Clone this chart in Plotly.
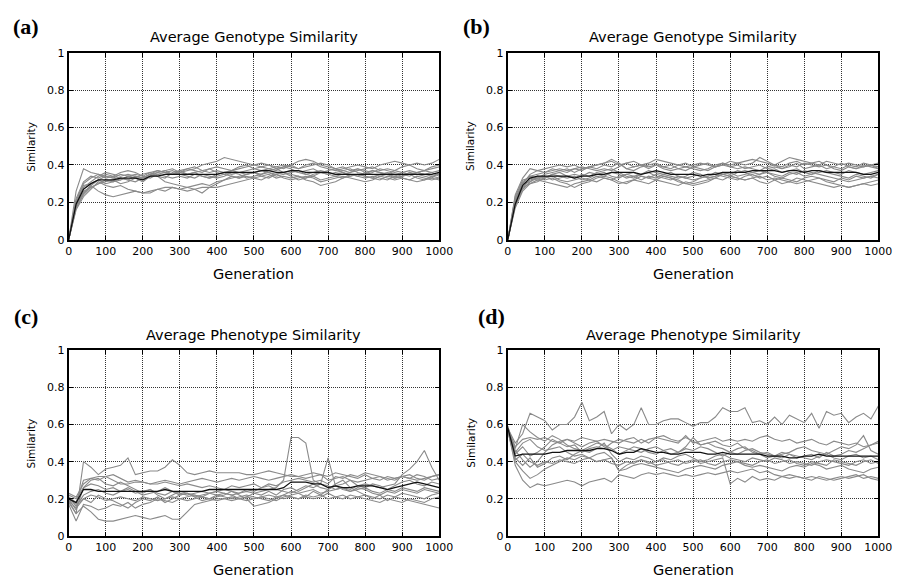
import plotly.graph_objects as go
from plotly.subplots import make_subplots

generations = list(range(0, 1001, 20))
x_ticks = list(range(0, 1001, 100))
y_ticks = [0, 0.2, 0.4, 0.6, 0.8, 1]
y_ticktext = ["0", "0.2", "0.4", "0.6", "0.8", "1"]

panel_labels = ["(a)", "(b)", "(c)", "(d)"]
panel_titles = ["Average Genotype Similarity", "Average Genotype Similarity",
                "Average Phenotype Similarity", "Average Phenotype Similarity"]

# ---- panel (a): genotype similarity runs ----
a_runs = [
    [0.00,0.26,0.38,0.36,0.35,0.33,0.34,0.36,0.37,0.36,0.34,0.36,0.37,0.36,0.35,0.37,0.38,0.37,0.36,0.38,0.39,0.38,0.37,0.39,0.40,0.38,0.37,0.38,0.39,0.40,0.39,0.38,0.40,0.41,0.39,0.38,0.37,0.38,0.39,0.40,0.39,0.38,0.40,0.41,0.42,0.41,0.40,0.41,0.40,0.41,0.43],
    [0.00,0.19,0.25,0.29,0.26,0.24,0.23,0.24,0.25,0.26,0.25,0.25,0.27,0.28,0.28,0.27,0.28,0.29,0.30,0.29,0.31,0.32,0.33,0.34,0.35,0.36,0.37,0.36,0.35,0.36,0.37,0.36,0.35,0.36,0.37,0.36,0.35,0.36,0.34,0.35,0.34,0.33,0.35,0.36,0.35,0.34,0.35,0.36,0.35,0.34,0.35],
    [0.00,0.17,0.24,0.28,0.30,0.32,0.31,0.33,0.32,0.34,0.33,0.35,0.34,0.31,0.30,0.29,0.28,0.27,0.25,0.28,0.30,0.32,0.34,0.33,0.35,0.36,0.34,0.33,0.35,0.36,0.34,0.32,0.33,0.34,0.32,0.33,0.34,0.33,0.35,0.34,0.33,0.34,0.33,0.32,0.34,0.33,0.32,0.34,0.33,0.32,0.33],
    [0.00,0.16,0.23,0.27,0.31,0.29,0.28,0.29,0.27,0.26,0.25,0.26,0.27,0.26,0.28,0.27,0.26,0.27,0.28,0.28,0.28,0.29,0.30,0.31,0.32,0.33,0.34,0.35,0.33,0.34,0.33,0.34,0.32,0.31,0.29,0.30,0.31,0.33,0.34,0.35,0.34,0.33,0.32,0.34,0.33,0.34,0.35,0.33,0.32,0.34,0.33],
    [0.00,0.21,0.30,0.33,0.35,0.34,0.33,0.35,0.34,0.33,0.31,0.34,0.36,0.37,0.35,0.36,0.37,0.38,0.40,0.41,0.42,0.44,0.43,0.42,0.41,0.40,0.39,0.40,0.38,0.39,0.40,0.38,0.39,0.40,0.41,0.40,0.38,0.39,0.37,0.38,0.36,0.37,0.36,0.35,0.37,0.36,0.35,0.36,0.37,0.36,0.37],
    [0.00,0.22,0.31,0.34,0.33,0.35,0.34,0.33,0.32,0.31,0.33,0.35,0.36,0.37,0.38,0.36,0.35,0.36,0.37,0.38,0.36,0.35,0.37,0.38,0.39,0.40,0.41,0.40,0.39,0.38,0.40,0.42,0.43,0.42,0.40,0.39,0.38,0.37,0.36,0.38,0.37,0.36,0.38,0.37,0.36,0.35,0.34,0.36,0.37,0.38,0.39],
    [0.00,0.18,0.26,0.28,0.30,0.31,0.32,0.30,0.31,0.33,0.32,0.34,0.35,0.34,0.33,0.34,0.33,0.35,0.34,0.33,0.34,0.35,0.34,0.33,0.34,0.33,0.32,0.34,0.35,0.33,0.32,0.33,0.34,0.33,0.31,0.32,0.33,0.34,0.33,0.32,0.31,0.32,0.34,0.33,0.32,0.33,0.32,0.31,0.32,0.33,0.32],
    [0.00,0.20,0.28,0.31,0.34,0.36,0.35,0.34,0.35,0.34,0.33,0.35,0.37,0.36,0.35,0.36,0.38,0.39,0.37,0.36,0.37,0.36,0.35,0.36,0.37,0.38,0.39,0.38,0.37,0.39,0.38,0.36,0.37,0.38,0.36,0.35,0.36,0.37,0.38,0.36,0.35,0.37,0.36,0.35,0.34,0.36,0.37,0.36,0.35,0.36,0.34],
    [0.00,0.17,0.25,0.29,0.32,0.34,0.33,0.32,0.34,0.35,0.34,0.33,0.35,0.36,0.37,0.35,0.34,0.33,0.35,0.34,0.33,0.34,0.36,0.35,0.33,0.34,0.35,0.36,0.34,0.35,0.36,0.37,0.35,0.34,0.36,0.37,0.38,0.36,0.35,0.34,0.36,0.35,0.34,0.35,0.33,0.34,0.36,0.35,0.34,0.33,0.36],
    [0.00,0.20,0.29,0.30,0.32,0.30,0.31,0.32,0.34,0.33,0.35,0.36,0.34,0.33,0.36,0.37,0.35,0.36,0.34,0.33,0.35,0.36,0.37,0.36,0.35,0.36,0.35,0.37,0.38,0.36,0.35,0.34,0.33,0.35,0.36,0.35,0.34,0.35,0.36,0.37,0.38,0.39,0.37,0.38,0.37,0.39,0.40,0.38,0.37,0.39,0.40],
]
a_mean = [0.00,0.19,0.27,0.30,0.32,0.32,0.32,0.33,0.33,0.33,0.32,0.34,0.34,0.35,0.35,0.35,0.35,0.35,0.35,0.35,0.35,0.36,0.36,0.36,0.36,0.36,0.37,0.37,0.36,0.36,0.37,0.37,0.36,0.36,0.36,0.36,0.35,0.35,0.35,0.35,0.35,0.35,0.35,0.35,0.35,0.35,0.35,0.35,0.35,0.35,0.36]

# ---- panel (b): genotype similarity runs ----
b_runs = [
    [0.00,0.24,0.33,0.38,0.37,0.38,0.39,0.40,0.39,0.40,0.38,0.39,0.40,0.41,0.42,0.40,0.41,0.39,0.40,0.41,0.43,0.42,0.41,0.40,0.39,0.40,0.41,0.40,0.39,0.41,0.40,0.41,0.42,0.43,0.42,0.41,0.40,0.42,0.44,0.43,0.42,0.41,0.40,0.42,0.41,0.40,0.41,0.40,0.39,0.40,0.41],
    [0.00,0.21,0.30,0.35,0.37,0.36,0.38,0.37,0.36,0.38,0.37,0.39,0.40,0.41,0.43,0.41,0.38,0.39,0.40,0.38,0.40,0.39,0.38,0.40,0.41,0.39,0.38,0.37,0.39,0.40,0.39,0.40,0.38,0.39,0.40,0.38,0.39,0.38,0.40,0.39,0.41,0.40,0.39,0.40,0.38,0.37,0.39,0.38,0.39,0.40,0.39],
    [0.00,0.20,0.28,0.30,0.32,0.31,0.30,0.29,0.28,0.30,0.31,0.32,0.31,0.33,0.32,0.30,0.31,0.32,0.31,0.30,0.32,0.31,0.30,0.29,0.31,0.30,0.31,0.32,0.33,0.32,0.34,0.33,0.32,0.33,0.34,0.32,0.33,0.32,0.31,0.33,0.32,0.31,0.30,0.29,0.28,0.29,0.28,0.29,0.30,0.29,0.30],
    [0.00,0.18,0.27,0.31,0.33,0.32,0.33,0.31,0.30,0.28,0.30,0.31,0.33,0.34,0.33,0.31,0.30,0.32,0.34,0.33,0.35,0.34,0.33,0.31,0.30,0.29,0.30,0.31,0.33,0.35,0.34,0.33,0.32,0.33,0.31,0.30,0.32,0.33,0.32,0.31,0.33,0.34,0.33,0.32,0.31,0.33,0.32,0.34,0.33,0.34,0.35],
    [0.00,0.22,0.31,0.34,0.33,0.35,0.36,0.37,0.38,0.36,0.38,0.39,0.38,0.40,0.39,0.41,0.38,0.37,0.39,0.40,0.41,0.39,0.40,0.38,0.37,0.39,0.40,0.41,0.39,0.40,0.42,0.41,0.40,0.41,0.44,0.42,0.40,0.39,0.41,0.42,0.40,0.41,0.42,0.40,0.39,0.38,0.40,0.39,0.41,0.40,0.38],
    [0.00,0.19,0.28,0.32,0.33,0.34,0.32,0.33,0.34,0.35,0.34,0.36,0.35,0.34,0.36,0.35,0.33,0.34,0.35,0.37,0.36,0.35,0.34,0.33,0.34,0.36,0.35,0.33,0.34,0.35,0.36,0.34,0.35,0.36,0.37,0.36,0.35,0.34,0.36,0.35,0.37,0.36,0.35,0.34,0.33,0.32,0.31,0.32,0.33,0.34,0.33],
    [0.00,0.23,0.32,0.33,0.32,0.33,0.35,0.36,0.34,0.33,0.35,0.34,0.36,0.37,0.38,0.36,0.34,0.33,0.35,0.36,0.34,0.33,0.32,0.34,0.33,0.32,0.33,0.34,0.36,0.35,0.34,0.36,0.37,0.36,0.35,0.37,0.38,0.36,0.37,0.38,0.36,0.35,0.36,0.37,0.36,0.35,0.37,0.36,0.35,0.36,0.37],
    [0.00,0.17,0.26,0.30,0.31,0.33,0.34,0.32,0.31,0.32,0.33,0.32,0.34,0.33,0.32,0.34,0.35,0.36,0.34,0.33,0.32,0.34,0.33,0.32,0.30,0.31,0.33,0.34,0.35,0.34,0.33,0.32,0.34,0.35,0.33,0.34,0.32,0.30,0.31,0.30,0.31,0.32,0.33,0.31,0.30,0.29,0.28,0.29,0.30,0.31,0.32],
    [0.00,0.21,0.30,0.34,0.35,0.36,0.37,0.38,0.37,0.38,0.39,0.38,0.37,0.38,0.37,0.39,0.41,0.42,0.40,0.39,0.40,0.38,0.37,0.38,0.39,0.38,0.37,0.38,0.40,0.41,0.39,0.38,0.39,0.38,0.37,0.39,0.40,0.38,0.39,0.41,0.38,0.39,0.40,0.38,0.39,0.41,0.39,0.38,0.40,0.39,0.38],
    [0.00,0.20,0.30,0.31,0.34,0.33,0.35,0.34,0.33,0.34,0.32,0.33,0.35,0.36,0.34,0.33,0.35,0.34,0.32,0.34,0.33,0.35,0.36,0.34,0.33,0.34,0.35,0.33,0.34,0.36,0.35,0.37,0.36,0.34,0.35,0.36,0.34,0.33,0.35,0.36,0.34,0.35,0.37,0.36,0.35,0.34,0.33,0.35,0.34,0.33,0.35],
]
b_mean = [0.00,0.19,0.29,0.33,0.34,0.34,0.34,0.34,0.34,0.33,0.34,0.34,0.35,0.35,0.36,0.36,0.36,0.36,0.35,0.36,0.37,0.36,0.35,0.35,0.35,0.35,0.34,0.35,0.35,0.36,0.36,0.36,0.36,0.37,0.37,0.37,0.37,0.36,0.37,0.37,0.36,0.37,0.37,0.36,0.36,0.36,0.36,0.36,0.35,0.35,0.36]

# ---- panel (c): phenotype similarity runs ----
c_runs = [
    [0.22,0.20,0.26,0.28,0.27,0.25,0.26,0.24,0.25,0.23,0.24,0.25,0.23,0.22,0.24,0.23,0.22,0.23,0.24,0.23,0.24,0.23,0.22,0.23,0.24,0.23,0.24,0.25,0.26,0.30,0.53,0.53,0.50,0.30,0.28,0.27,0.25,0.26,0.24,0.25,0.26,0.24,0.23,0.25,0.24,0.26,0.25,0.24,0.26,0.25,0.24],
    [0.19,0.12,0.40,0.37,0.33,0.36,0.37,0.38,0.42,0.33,0.34,0.35,0.35,0.37,0.41,0.38,0.34,0.33,0.34,0.35,0.34,0.34,0.34,0.34,0.33,0.33,0.34,0.35,0.34,0.33,0.32,0.32,0.33,0.34,0.33,0.32,0.34,0.33,0.32,0.31,0.33,0.31,0.30,0.32,0.31,0.32,0.33,0.31,0.30,0.32,0.33],
    [0.18,0.12,0.16,0.13,0.09,0.08,0.08,0.09,0.10,0.11,0.10,0.09,0.10,0.11,0.09,0.09,0.13,0.17,0.18,0.19,0.20,0.20,0.19,0.20,0.21,0.20,0.21,0.22,0.21,0.20,0.21,0.20,0.22,0.21,0.22,0.20,0.21,0.22,0.20,0.21,0.22,0.21,0.20,0.22,0.21,0.20,0.19,0.18,0.17,0.16,0.15],
    [0.21,0.16,0.22,0.24,0.25,0.23,0.22,0.24,0.26,0.24,0.22,0.23,0.24,0.26,0.24,0.22,0.23,0.21,0.22,0.23,0.24,0.25,0.24,0.23,0.25,0.24,0.26,0.27,0.25,0.24,0.23,0.25,0.27,0.26,0.28,0.42,0.27,0.25,0.24,0.26,0.25,0.23,0.22,0.24,0.23,0.25,0.24,0.23,0.25,0.24,0.23],
    [0.20,0.17,0.20,0.22,0.21,0.19,0.20,0.21,0.20,0.19,0.21,0.20,0.19,0.20,0.21,0.20,0.19,0.20,0.21,0.20,0.19,0.20,0.21,0.20,0.19,0.20,0.21,0.20,0.19,0.21,0.22,0.23,0.24,0.25,0.23,0.24,0.25,0.26,0.25,0.27,0.28,0.27,0.26,0.27,0.28,0.33,0.36,0.40,0.46,0.37,0.30],
    [0.23,0.21,0.28,0.31,0.30,0.32,0.33,0.31,0.29,0.30,0.29,0.28,0.29,0.30,0.29,0.28,0.29,0.30,0.31,0.30,0.29,0.30,0.31,0.30,0.31,0.32,0.31,0.30,0.31,0.32,0.33,0.32,0.31,0.32,0.33,0.30,0.31,0.32,0.30,0.29,0.30,0.31,0.32,0.30,0.31,0.32,0.31,0.30,0.31,0.32,0.33],
    [0.17,0.08,0.17,0.16,0.14,0.15,0.17,0.16,0.18,0.15,0.17,0.18,0.20,0.19,0.18,0.20,0.21,0.22,0.21,0.20,0.22,0.21,0.20,0.21,0.22,0.21,0.20,0.19,0.21,0.22,0.21,0.20,0.21,0.20,0.21,0.23,0.21,0.20,0.22,0.21,0.20,0.19,0.18,0.20,0.19,0.18,0.20,0.19,0.18,0.20,0.21],
    [0.20,0.14,0.26,0.30,0.31,0.28,0.27,0.29,0.27,0.25,0.23,0.25,0.22,0.20,0.22,0.24,0.23,0.22,0.21,0.23,0.22,0.23,0.22,0.20,0.21,0.23,0.22,0.24,0.22,0.25,0.26,0.24,0.26,0.28,0.26,0.25,0.27,0.28,0.30,0.27,0.26,0.28,0.27,0.25,0.27,0.29,0.30,0.28,0.27,0.29,0.28],
    [0.19,0.15,0.20,0.18,0.22,0.20,0.19,0.17,0.15,0.18,0.20,0.19,0.21,0.18,0.20,0.22,0.23,0.21,0.19,0.20,0.21,0.22,0.24,0.22,0.20,0.16,0.17,0.18,0.20,0.22,0.24,0.23,0.21,0.24,0.22,0.25,0.28,0.30,0.26,0.24,0.22,0.20,0.22,0.19,0.21,0.23,0.22,0.21,0.20,0.22,0.23],
    [0.21,0.18,0.30,0.31,0.32,0.32,0.30,0.28,0.28,0.29,0.29,0.28,0.28,0.29,0.28,0.27,0.28,0.27,0.26,0.27,0.26,0.25,0.27,0.26,0.27,0.28,0.26,0.28,0.27,0.29,0.30,0.31,0.30,0.29,0.30,0.28,0.32,0.31,0.33,0.32,0.34,0.33,0.32,0.31,0.30,0.32,0.31,0.33,0.32,0.30,0.31],
]
c_mean = [0.20,0.18,0.25,0.25,0.24,0.24,0.24,0.24,0.24,0.24,0.24,0.24,0.24,0.25,0.24,0.24,0.24,0.24,0.24,0.25,0.25,0.25,0.25,0.25,0.25,0.25,0.25,0.25,0.25,0.26,0.29,0.29,0.29,0.28,0.28,0.26,0.27,0.26,0.26,0.27,0.27,0.27,0.26,0.25,0.26,0.27,0.28,0.29,0.28,0.27,0.26]

# ---- panel (d): phenotype similarity runs ----
d_runs = [
    [0.58,0.50,0.55,0.66,0.64,0.62,0.57,0.60,0.60,0.64,0.72,0.62,0.64,0.67,0.55,0.60,0.57,0.60,0.69,0.60,0.60,0.62,0.63,0.63,0.61,0.59,0.61,0.61,0.64,0.69,0.67,0.67,0.69,0.61,0.62,0.60,0.64,0.60,0.65,0.63,0.61,0.66,0.58,0.67,0.65,0.66,0.61,0.64,0.66,0.63,0.70],
    [0.57,0.38,0.30,0.26,0.28,0.27,0.28,0.29,0.30,0.29,0.27,0.29,0.30,0.31,0.29,0.33,0.32,0.31,0.33,0.34,0.33,0.34,0.33,0.32,0.33,0.32,0.33,0.34,0.33,0.34,0.35,0.34,0.35,0.36,0.34,0.35,0.33,0.32,0.31,0.32,0.31,0.32,0.31,0.30,0.31,0.32,0.31,0.32,0.33,0.31,0.30],
    [0.59,0.45,0.50,0.52,0.48,0.46,0.47,0.48,0.45,0.43,0.44,0.42,0.40,0.41,0.42,0.35,0.38,0.40,0.41,0.39,0.40,0.41,0.39,0.38,0.40,0.41,0.39,0.40,0.41,0.42,0.28,0.31,0.29,0.32,0.30,0.31,0.30,0.32,0.33,0.32,0.31,0.30,0.32,0.31,0.30,0.31,0.32,0.33,0.31,0.32,0.31],
    [0.58,0.48,0.52,0.53,0.52,0.53,0.51,0.50,0.52,0.51,0.53,0.52,0.51,0.52,0.51,0.50,0.52,0.53,0.50,0.52,0.53,0.52,0.51,0.50,0.54,0.50,0.51,0.52,0.53,0.51,0.52,0.51,0.52,0.51,0.53,0.54,0.52,0.51,0.52,0.50,0.51,0.52,0.50,0.49,0.51,0.50,0.49,0.50,0.48,0.49,0.50],
    [0.57,0.46,0.41,0.37,0.40,0.45,0.49,0.51,0.52,0.50,0.48,0.50,0.51,0.48,0.46,0.48,0.47,0.46,0.45,0.47,0.48,0.46,0.44,0.45,0.47,0.46,0.48,0.47,0.45,0.43,0.45,0.47,0.48,0.45,0.44,0.42,0.43,0.45,0.44,0.42,0.43,0.44,0.42,0.45,0.43,0.44,0.46,0.45,0.47,0.49,0.51],
    [0.56,0.42,0.38,0.42,0.37,0.39,0.42,0.43,0.41,0.44,0.46,0.45,0.47,0.50,0.44,0.40,0.42,0.41,0.43,0.42,0.40,0.42,0.41,0.43,0.44,0.42,0.40,0.41,0.43,0.44,0.42,0.41,0.40,0.42,0.41,0.40,0.42,0.41,0.39,0.40,0.39,0.38,0.40,0.41,0.40,0.39,0.38,0.40,0.41,0.39,0.40],
    [0.58,0.47,0.60,0.56,0.53,0.51,0.54,0.52,0.49,0.47,0.46,0.48,0.50,0.49,0.47,0.44,0.46,0.48,0.47,0.45,0.44,0.46,0.47,0.45,0.48,0.53,0.49,0.50,0.48,0.47,0.45,0.44,0.46,0.47,0.45,0.44,0.43,0.44,0.45,0.47,0.48,0.46,0.45,0.44,0.46,0.48,0.47,0.49,0.54,0.46,0.44],
    [0.57,0.40,0.35,0.31,0.33,0.36,0.38,0.40,0.42,0.41,0.43,0.42,0.44,0.45,0.42,0.35,0.36,0.38,0.39,0.38,0.37,0.36,0.35,0.34,0.36,0.37,0.38,0.37,0.36,0.38,0.39,0.40,0.38,0.37,0.38,0.37,0.36,0.35,0.37,0.38,0.37,0.39,0.38,0.36,0.37,0.38,0.36,0.35,0.34,0.36,0.37],
    [0.59,0.44,0.48,0.43,0.45,0.48,0.52,0.50,0.48,0.49,0.45,0.47,0.48,0.47,0.50,0.52,0.51,0.50,0.52,0.50,0.53,0.54,0.52,0.51,0.53,0.51,0.49,0.50,0.51,0.49,0.48,0.50,0.47,0.46,0.44,0.45,0.43,0.42,0.44,0.43,0.42,0.41,0.43,0.44,0.42,0.41,0.43,0.44,0.42,0.43,0.41],
    [0.58,0.41,0.44,0.40,0.38,0.40,0.39,0.41,0.40,0.39,0.41,0.42,0.40,0.41,0.39,0.38,0.40,0.39,0.41,0.40,0.38,0.39,0.40,0.41,0.39,0.40,0.41,0.39,0.38,0.40,0.41,0.40,0.39,0.38,0.40,0.41,0.39,0.40,0.41,0.39,0.38,0.40,0.39,0.38,0.41,0.40,0.39,0.38,0.40,0.41,0.39],
]
d_mean = [0.58,0.43,0.44,0.44,0.44,0.44,0.45,0.45,0.46,0.46,0.46,0.46,0.47,0.47,0.46,0.44,0.45,0.45,0.47,0.46,0.45,0.45,0.44,0.44,0.45,0.45,0.45,0.44,0.44,0.45,0.44,0.44,0.44,0.44,0.44,0.43,0.43,0.43,0.42,0.42,0.43,0.43,0.44,0.43,0.43,0.43,0.43,0.43,0.43,0.43,0.43]

panels = [(a_runs, a_mean), (b_runs, b_mean), (c_runs, c_mean), (d_runs, d_mean)]

W, H = 909, 585
# plot-area boxes in pixels: (left, right, top, bottom)
boxes = [(66, 444, 48, 239), (514, 892, 48, 239), (66, 444, 352, 542), (514, 892, 352, 542)]

fig = make_subplots(rows=2, cols=2)
FONT = "DejaVu Sans"

for i, (runs, mean) in enumerate(panels):
    r, c = i // 2 + 1, i % 2 + 1
    for run in runs:
        fig.add_trace(go.Scatter(x=generations, y=run, mode="lines",
                                 line=dict(color="#8a8a8a", width=1.1),
                                 showlegend=False, hoverinfo="skip"), row=r, col=c)
    fig.add_trace(go.Scatter(x=generations, y=mean, mode="lines",
                             line=dict(color="#111111", width=1.3),
                             showlegend=False), row=r, col=c)

annotations = []
for i, (l, rr, t, b) in enumerate(boxes):
    sfx = "" if i == 0 else str(i + 1)
    common = dict(showgrid=True, gridcolor="#333333", griddash="1px,1px", gridwidth=1,
                  showline=True, linecolor="black", linewidth=2, mirror="ticks",
                  ticks="inside", ticklen=4, tickcolor="black", zeroline=False,
                  tickfont=dict(family=FONT, size=11, color="black"))
    fig.layout["xaxis" + sfx].update(domain=[l / W, rr / W], range=[0, 1000],
                                     tickvals=x_ticks, **common)
    fig.layout["yaxis" + sfx].update(domain=[1 - b / H, 1 - t / H], range=[0, 1],
                                     tickvals=y_ticks, ticktext=y_ticktext, **common)
    cx = (l + rr) / 2
    # title
    annotations.append(dict(text=panel_titles[i], x=cx / W, y=1 - (t - 16) / H,
                            xref="paper", yref="paper", showarrow=False,
                            font=dict(family=FONT, size=14.5, color="black"),
                            xanchor="center", yanchor="middle"))
    # x label
    annotations.append(dict(text="Generation", x=cx / W, y=1 - (b + 35) / H,
                            xref="paper", yref="paper", showarrow=False,
                            font=dict(family=FONT, size=14.5, color="black"),
                            xanchor="center", yanchor="middle"))
    # y label
    annotations.append(dict(text="Similarity", x=(l - 38) / W, y=1 - ((t + b) / 2) / H,
                            xref="paper", yref="paper", showarrow=False, textangle=-90,
                            font=dict(family=FONT, size=10.5, color="black"),
                            xanchor="center", yanchor="middle"))
    # panel label
    lx = [22, 482, 22, 497][i]
    ly = [21, 21, 318, 318][i]
    annotations.append(dict(text="<b>" + panel_labels[i] + "</b>", x=lx / W, y=1 - ly / H,
                            xref="paper", yref="paper", showarrow=False,
                            font=dict(family="Liberation Serif", size=22, color="black"),
                            xanchor="center", yanchor="middle"))

fig.update_layout(width=W, height=H, margin=dict(l=0, r=0, t=0, b=0),
                  paper_bgcolor="white", plot_bgcolor="white",
                  annotations=annotations, showlegend=False)

fig.write_html("out.html")
